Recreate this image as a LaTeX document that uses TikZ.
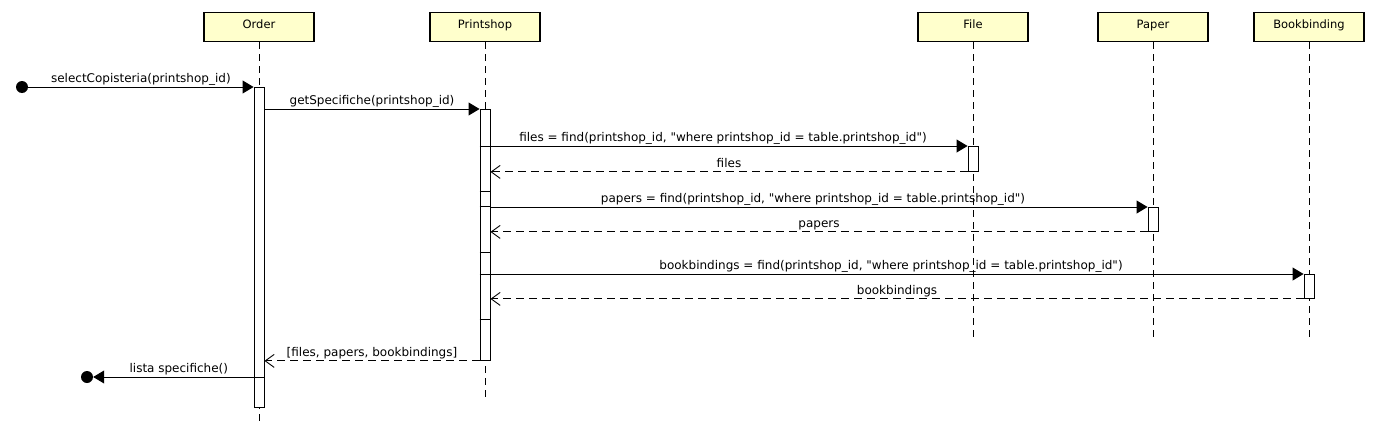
\documentclass[tikz,border=0pt]{standalone}
\usepackage{fontspec}
\setmainfont{DejaVu Sans}
\usepackage{tikz}
\usetikzlibrary{arrows.meta, positioning, calc}
\definecolor{mydark}{RGB}{0,0,0}
\definecolor{hdryellow}{RGB}{255,255,204}
\newcommand{\dq}{\textquotedbl{}}
\tikzset{
  headbox/.style={rectangle, draw=mydark, fill=hdryellow,
    minimum width=110pt, minimum height=29pt, inner sep=0pt,
    font=\fontsize{11.5}{13}\selectfont, text height=7pt, text depth=4.6pt,
    line width=1.7pt},
  actbar/.style={rectangle, draw=mydark, fill=white,
    minimum width=10pt, inner sep=0pt, line width=0.9pt},
  lifeline/.style={color=mydark, line width=0.9pt, dash pattern=on 7pt off 5pt},
  dot/.style={circle, fill=mydark, minimum size=12pt, inner sep=0pt},
  msg/.style={-{Triangle[length=11pt, width=13pt]}, line width=0.9pt, color=mydark},
  retmsg/.style={-{Straight Barb[length=9pt, width=13pt]}, line width=0.9pt,
    color=mydark, dash pattern=on 8pt off 5pt},
  line/.style={line width=0.9pt, color=mydark},
  lbl/.style={font=\fontsize{12}{14}\selectfont, text height=8.5pt,
    text depth=3pt, inner sep=1pt}
}

\begin{document}
\begin{tikzpicture}[x=1pt, y=-1pt]
  \useasboundingbox (0,0) rectangle (1381,447);

  % Lifeline heads
  \node[headbox] (order) at (259,27) {Order};
  \node[headbox] (printshop) at (485,27) {Printshop};
  \node[headbox] (file) at (973,27) {File};
  \node[headbox] (paper) at (1153,27) {Paper};
  \node[headbox] (bookbinding) at (1309,27) {Bookbinding};

  % Lifelines
  \coordinate (orderEnd) at (259,422);
  \coordinate (printshopEnd) at (485,397);
  \coordinate (fileEnd) at (973,342);
  \coordinate (paperEnd) at (1153,342);
  \coordinate (bookbindingEnd) at (1309,342);
  \draw[lifeline] (order.south) -- (orderEnd);
  \draw[lifeline] (printshop.south) -- (printshopEnd);
  \draw[lifeline] (file.south) -- (fileEnd);
  \draw[lifeline] (paper.south) -- (paperEnd);
  \draw[lifeline] (bookbinding.south) -- (bookbindingEnd);

  % Activation bars
  \node[actbar, minimum height=320pt, anchor=north] (actOrder) at (259,87) {};
  \node[actbar, minimum height=251pt, anchor=north] (actPrint) at (485,109) {};
  \node[actbar, minimum height=25pt, anchor=north] (actFile) at (973,146) {};
  \node[actbar, minimum height=24pt, anchor=north] (actPaper) at (1153,207) {};
  \node[actbar, minimum height=24pt, anchor=north] (actBind) at (1309,274) {};
  \foreach \yy in {146,191,206,252,274,319}
    \draw[line] (actPrint.west |- 0,\yy) -- (actPrint.east |- 0,\yy);

  % Found and lost message ends
  \node[dot] (start) at (22,87) {};
  \node[dot] (lost) at (87,377) {};

  % Messages
  \draw[msg] (start) -- (actOrder.north west)
    node[lbl, midway, above] {selectCopisteria(printshop\_id)};
  \draw[msg] (actOrder.east |- actPrint.north) -- (actPrint.north west)
    node[lbl, midway, above] {getSpecifiche(printshop\_id)};
  \draw[msg] (actPrint.east |- actFile.north) -- (actFile.north west)
    node[lbl, midway, above, xshift=-6pt] {files = find(printshop\_id, \dq where printshop\_id = table.printshop\_id\dq)};
  \draw[retmsg] (actFile.south west) -- (actPrint.east |- actFile.south)
    node[lbl, midway, above] {files};
  \draw[msg] (actPrint.east |- actPaper.north) -- (actPaper.north west)
    node[lbl, midway, above, xshift=-6pt] {papers = find(printshop\_id, \dq where printshop\_id = table.printshop\_id\dq)};
  \draw[retmsg] (actPaper.south west) -- (actPrint.east |- actPaper.south)
    node[lbl, midway, above] {papers};
  \draw[msg] (actPrint.east |- actBind.north) -- (actBind.north west)
    node[lbl, midway, above, xshift=-6pt] {bookbindings = find(printshop\_id, \dq where printshop\_id = table.printshop\_id\dq)};
  \draw[retmsg] (actBind.south west) -- (actPrint.east |- actBind.south)
    node[lbl, midway, above] {bookbindings};
  \draw[retmsg] (actPrint.south west) -- (actOrder.east |- actPrint.south)
    node[lbl, midway, above] {[files, papers, bookbindings]};
  \draw[msg] (actOrder.east |- lost) -- (lost.east)
    node[lbl, midway, above] {lista specifiche()};
\end{tikzpicture}
\end{document}
